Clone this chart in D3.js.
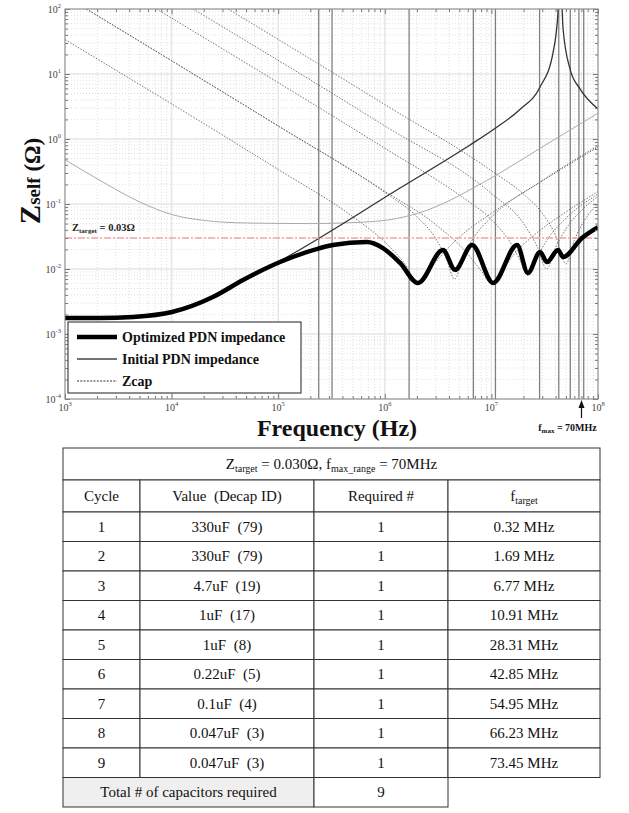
<!DOCTYPE html>
<html>
<head>
<meta charset="utf-8">
<script src="https://cdn.jsdelivr.net/npm/d3@7"></script>
<style>
body { margin: 0; background: #fff; }
text { font-family: "Liberation Serif", "Times New Roman", serif; }
</style>
</head>
<body>
<script>
// values: [frequency Hz, impedance Ohm]
var optimized = [[1e3,1.76e-3],[2.13e3,1.76e-3],[4.35e3,1.83e-3],[1.01e4,2.18e-3],[2.44e4,3.71e-3],[4.68e4,6.78e-3],
	[1.04e5,0.0128],[2.47e5,0.021],[3.26e5,0.0234],[6.8e5,0.026],[9.6e5,0.021],[1.39e6,0.0124],[2.05e6,6.1e-3],
	[3.51e6,0.0196],[4.56e6,9.7e-3],[6.58e6,0.0234],[1.04e7,6.1e-3],[1.74e7,0.0234],[2.2e7,8.7e-3],[2.86e7,0.0183],
	[3.32e7,0.0128],[4.22e7,0.0196],[4.7e7,0.0153],[7.08e7,0.03],[1e8,0.044]];

var initial = [[1e3,1.76e-3],[4.35e3,1.83e-3],[1.01e4,2.18e-3],[2.44e4,3.7e-3],[4.68e4,6.6e-3],[1.21e5,0.0153],
	[1.39e6,0.176],[6.3e6,0.81],[1.08e7,1.45],[1.85e7,2.84],[2.86e7,6.3],[3.78e7,21],[4.22e7,92],[4.35e7,1000],
	[4.7e7,50],[5.46e7,12],[6.78e7,5.9],[1e8,2.9]];

var z330 = [[1e3,0.48],[2e3,0.245],[5e3,0.108],[1e4,0.069],[2e4,0.056],[5e4,0.051],[2e5,0.05],[8e5,0.054],
	[1.5e6,0.063],[2.1e6,0.073],[3.5e6,0.101],[6.7e6,0.175],[1.2e7,0.3],[2.86e7,0.72],[1e8,2.5]];
var z4u7 = [[1e3,33.9],[1e5,0.339],[5e5,0.064],[1e6,0.026],[1.5e6,0.0128],[2.12e6,0.006],[3e6,0.0128],
	[5e6,0.031],[1e7,0.072],[3e7,0.226],[1e8,0.754]];
var z1u17 = [[1.59e3,100],[1e5,1.59],[1e6,0.151],[2e6,0.0639],[3e6,0.0295],[3.8e6,0.014],[4.5e6,0.007],
	[5.5e6,0.016],[7e6,0.0323],[1e7,0.0626],[3e7,0.23],[1e8,0.785]];
var z1u8 = [[1.59e3,100],[1e5,1.59],[1e6,0.157],[3e6,0.0483],[6e6,0.0171],[8e6,0.0094],[1e7,0.006],
	[1.25e7,0.0091],[1.6e7,0.0163],[2.5e7,0.0329],[5e7,0.0753],[1e8,0.1555]];
var z0u22 = [[7.23e3,100],[1e6,0.72],[5e6,0.137],[1e7,0.0574],[1.5e7,0.0258],[1.85e7,0.0139],[2.2e7,0.008],
	[2.6e7,0.0137],[3.3e7,0.0274],[5e7,0.0603],[1e8,0.142]];
var z0u1 = [[1.59e4,100],[1e6,1.59],[1e7,0.145],[2e7,0.0503],[2.7e7,0.0218],[3.3e7,0.01],[4e7,0.0213],
	[5e7,0.0414],[7e7,0.0798],[1e8,0.1305]];
var z0u047 = [[3.39e4,100],[1e6,3.39],[1e7,0.325],[2e7,0.142],[3e7,0.072],[4e7,0.0327],[5e7,0.012],
	[6e7,0.0277],[8e7,0.0663],[1e8,0.1018]];

var zTarget = 0.03;
var fMax = 70e6;
var extraMarks = [0.24e6];

var xTicks = [1e3,1e4,1e5,1e6,1e7,1e8];
var xTickExp = ["3","4","5","6","7","8"];
var yTicks = [1e-4,1e-3,1e-2,1e-1,1e0,1e1,1e2];
var yTickExp = ["-4","-3","-2","-1","0","1","2"];

// table
var cycles = [1,2,3,4,5,6,7,8,9];
var decaps = ["330uF  (79)","330uF  (79)","4.7uF  (19)","1uF  (17)","1uF  (8)","0.22uF  (5)","0.1uF  (4)","0.047uF  (3)","0.047uF  (3)"];
var required = [1,1,1,1,1,1,1,1,1];
var fTarget = [0.32,1.69,6.77,10.91,28.31,42.85,54.95,66.23,73.45];
var totalCaps = 9;

var W = 629, H = 813;
var pL = 65, pR = 598, pT = 9, pB = 399;

var svg = d3.select("body").append("svg")
			.attr("width", W)
			.attr("height", H);

var x = d3.scaleLog().domain([1e3,1e8]).range([pL,pR]);
var y = d3.scaleLog().domain([1e-4,1e2]).range([pB,pT]);

var minorX = [], minorY = [];
var k, m;
for (k=3; k<8; k++) { for (m=2; m<10; m++) minorX.push(m * Math.pow(10,k)); }
for (k=-4; k<2; k++) { for (m=2; m<10; m++) minorY.push(m * Math.pow(10,k)); }

// grid
var grid = svg.append("g");
grid.selectAll(".mx").data(minorX).enter().append("line")
	.attr("x1", function(d){return x(d);}).attr("x2", function(d){return x(d);})
	.attr("y1", pT).attr("y2", pB)
	.attr("stroke", "#d8d8d8").attr("stroke-width", 0.8).attr("stroke-dasharray", "1,2");
grid.selectAll(".my").data(minorY).enter().append("line")
	.attr("y1", function(d){return y(d);}).attr("y2", function(d){return y(d);})
	.attr("x1", pL).attr("x2", pR)
	.attr("stroke", "#d8d8d8").attr("stroke-width", 0.8).attr("stroke-dasharray", "1,2");
grid.selectAll(".Mx").data(xTicks).enter().append("line")
	.attr("x1", function(d){return x(d);}).attr("x2", function(d){return x(d);})
	.attr("y1", pT).attr("y2", pB)
	.attr("stroke", "#e6e6e6").attr("stroke-width", 1.5);
grid.selectAll(".My").data(yTicks).enter().append("line")
	.attr("y1", function(d){return y(d);}).attr("y2", function(d){return y(d);})
	.attr("x1", pL).attr("x2", pR)
	.attr("stroke", "#e6e6e6").attr("stroke-width", 1.5);

svg.append("clipPath").attr("id", "clip")
	.append("rect").attr("x", pL).attr("y", pT).attr("width", pR-pL).attr("height", pB-pT);

var plot = svg.append("g").attr("clip-path", "url(#clip)");

// vertical marks at the target frequencies
var marks = fTarget.map(function(d){return d * 1e6;}).concat(extraMarks);
plot.selectAll(".vm").data(marks).enter().append("line")
	.attr("x1", function(d){return x(d);}).attr("x2", function(d){return x(d);})
	.attr("y1", pT).attr("y2", pB)
	.attr("stroke", "#808080").attr("stroke-width", 1.3);

var line = d3.line()
	.x(function(d){return x(d[0]);})
	.y(function(d){return y(d[1]);})
	.curve(d3.curveMonotoneX);

// Zcap curves
var capCurves = [z4u7, z1u17, z1u8, z0u22, z0u1, z0u047];
plot.selectAll(".cap").data(capCurves).enter().append("path")
	.attr("d", line)
	.attr("fill", "none")
	.attr("stroke", "#666")
	.attr("stroke-width", 0.9)
	.attr("stroke-dasharray", "1.5,1.5");

plot.append("path").attr("d", line(z330))
	.attr("fill", "none").attr("stroke", "#aaa").attr("stroke-width", 1);

plot.append("path").attr("d", line(initial))
	.attr("fill", "none").attr("stroke", "#333").attr("stroke-width", 1.3);

// target line
plot.append("line")
	.attr("x1", pL).attr("x2", pR)
	.attr("y1", y(zTarget)).attr("y2", y(zTarget))
	.attr("stroke", "#f4a4a4").attr("stroke-width", 1.5)
	.attr("stroke-dasharray", "7,2,2,2");

plot.append("path").attr("d", line(optimized))
	.attr("fill", "none").attr("stroke", "#000").attr("stroke-width", 4.5)
	.attr("stroke-linejoin", "round");

// Z target label
var zt = svg.append("text").attr("x", 72).attr("y", y(zTarget) - 7)
	.attr("font-size", 10.5).attr("font-weight", "bold").attr("fill", "#222");
zt.append("tspan").text("Z");
zt.append("tspan").attr("font-size", 7).attr("dy", 2).text("target");
zt.append("tspan").attr("dy", -2).text(" = 0.03Ω");

// axes: ticks on all four sides, pointing in
function tickStyle(g) {
	g.selectAll("line").attr("stroke", "#777");
	g.select(".domain").remove();
}
svg.append("g").attr("transform", "translate(0," + pB + ")")
	.call(d3.axisBottom(x).tickValues(xTicks).tickSize(-5).tickFormat("")).call(tickStyle);
svg.append("g").attr("transform", "translate(0," + pB + ")")
	.call(d3.axisBottom(x).tickValues(minorX).tickSize(-3).tickFormat("")).call(tickStyle);
svg.append("g").attr("transform", "translate(0," + pT + ")")
	.call(d3.axisTop(x).tickValues(xTicks).tickSize(-5).tickFormat("")).call(tickStyle);
svg.append("g").attr("transform", "translate(0," + pT + ")")
	.call(d3.axisTop(x).tickValues(minorX).tickSize(-3).tickFormat("")).call(tickStyle);
svg.append("g").attr("transform", "translate(" + pL + ",0)")
	.call(d3.axisLeft(y).tickValues(yTicks).tickSize(-5).tickFormat("")).call(tickStyle);
svg.append("g").attr("transform", "translate(" + pL + ",0)")
	.call(d3.axisLeft(y).tickValues(minorY).tickSize(-3).tickFormat("")).call(tickStyle);
svg.append("g").attr("transform", "translate(" + pR + ",0)")
	.call(d3.axisRight(y).tickValues(yTicks).tickSize(-5).tickFormat("")).call(tickStyle);
svg.append("g").attr("transform", "translate(" + pR + ",0)")
	.call(d3.axisRight(y).tickValues(minorY).tickSize(-3).tickFormat("")).call(tickStyle);

svg.append("rect")
	.attr("x", pL).attr("y", pT).attr("width", pR-pL).attr("height", pB-pT)
	.attr("fill", "none").attr("stroke", "#8a8a8a").attr("stroke-width", 1);

// tick labels 10^n
var xl = svg.selectAll(".xl").data(xTicks).enter().append("text")
	.attr("x", function(d){return x(d);}).attr("y", 411)
	.attr("text-anchor", "middle").attr("font-size", 10).attr("fill", "#444");
xl.append("tspan").text("10");
xl.append("tspan").attr("font-size", 6.5).attr("dy", -5).text(function(d,i){return xTickExp[i];});

var yl = svg.selectAll(".yl").data(yTicks).enter().append("text")
	.attr("x", 61).attr("y", function(d){return y(d) + 4;})
	.attr("text-anchor", "end").attr("font-size", 10).attr("fill", "#444");
yl.append("tspan").text("10");
yl.append("tspan").attr("font-size", 6.5).attr("dy", -5).text(function(d,i){return yTickExp[i];});

// axis titles
svg.append("text").attr("x", 337).attr("y", 436)
	.attr("text-anchor", "middle").attr("font-size", 24).attr("font-weight", "bold").attr("fill", "#111")
	.text("Frequency (Hz)");

var yt = svg.append("text").attr("transform", "translate(40,181) rotate(-90)")
	.attr("text-anchor", "middle").attr("font-weight", "bold").attr("fill", "#111");
yt.append("tspan").attr("font-size", 29).text("Z");
yt.append("tspan").attr("font-size", 19).text("self");
yt.append("tspan").attr("font-size", 23).text(" (Ω)");

// f max arrow
var fx = x(fMax);
svg.append("line").attr("x1", fx).attr("x2", fx).attr("y1", 418).attr("y2", 404)
	.attr("stroke", "#111").attr("stroke-width", 1.2);
svg.append("path")
	.attr("d", "M" + (fx-3) + ",408 L" + fx + ",400 L" + (fx+3) + ",408 Z")
	.attr("fill", "#111");
var fl = svg.append("text").attr("x", fx - 14).attr("y", 431)
	.attr("text-anchor", "middle").attr("font-size", 10).attr("font-weight", "bold").attr("fill", "#111");
fl.append("tspan").text("f");
fl.append("tspan").attr("font-size", 7).attr("dy", 2).text("max");
fl.append("tspan").attr("dy", -2).text(" = 70MHz");

// legend
var lg = svg.append("g");
lg.append("rect").attr("x", 68).attr("y", 322).attr("width", 233).attr("height", 71)
	.attr("fill", "#fff").attr("stroke", "#444").attr("stroke-width", 1.2);
var legendItems = [
	{label: "Optimized PDN impedance", w: 4.5, dash: null, color: "#000"},
	{label: "Initial PDN impedance", w: 1.3, dash: null, color: "#444"},
	{label: "Zcap", w: 1, dash: "2,1.3", color: "#333"}
];
legendItems.forEach(function(d, i) {
	var ly = 337 + i * 22;
	lg.append("line").attr("x1", 77).attr("x2", 117).attr("y1", ly).attr("y2", ly)
		.attr("stroke", d.color).attr("stroke-width", d.w).attr("stroke-dasharray", d.dash);
	lg.append("text").attr("x", 122).attr("y", ly + 5)
		.attr("font-size", 14).attr("font-weight", "bold").attr("fill", "#111").text(d.label);
});

// table
var colX = [63, 140, 314, 448, 600];
var tTop = 448, hdrH = 32, colH = 32, rowH = 29.5;
var rowsTop = tTop + hdrH + colH;
var tg = svg.append("g").attr("font-size", 15).attr("fill", "#111");

function cell(x0, x1, y0, h, fill) {
	tg.append("rect").attr("x", x0).attr("y", y0).attr("width", x1-x0).attr("height", h)
		.attr("fill", fill || "#fff").attr("stroke", "#333").attr("stroke-width", 1);
}
function ctext(cx, cy, s) {
	return tg.append("text").attr("x", cx).attr("y", cy + 5).attr("text-anchor", "middle")
		.attr("xml:space", "preserve").style("white-space", "pre").text(s);
}

cell(colX[0], colX[4], tTop, hdrH);
var ht = tg.append("text").attr("x", (colX[0]+colX[4])/2).attr("y", tTop + hdrH/2 + 5).attr("text-anchor", "middle");
ht.append("tspan").text("Z");
ht.append("tspan").attr("font-size", 10).attr("dy", 3).text("target");
ht.append("tspan").attr("dy", -3).text(" = 0.030Ω, f");
ht.append("tspan").attr("font-size", 10).attr("dy", 3).text("max_range");
ht.append("tspan").attr("dy", -3).text(" = 70MHz");

var heads = ["Cycle", "Value  (Decap ID)", "Required #", ""];
var c;
for (c=0; c<4; c++) {
	cell(colX[c], colX[c+1], tTop + hdrH, colH);
	if (heads[c]) ctext((colX[c]+colX[c+1])/2, tTop + hdrH + colH/2, heads[c]);
}
var fh = tg.append("text").attr("x", (colX[3]+colX[4])/2).attr("y", tTop + hdrH + colH/2 + 5).attr("text-anchor", "middle");
fh.append("tspan").text("f");
fh.append("tspan").attr("font-size", 10).attr("dy", 3).text("target");

cycles.forEach(function(d, i) {
	var ry = rowsTop + i * rowH;
	var vals = [String(d), decaps[i], String(required[i]), fTarget[i].toFixed(2) + " MHz"];
	for (c=0; c<4; c++) {
		cell(colX[c], colX[c+1], ry, rowH);
		ctext((colX[c]+colX[c+1])/2, ry + rowH/2, vals[c]);
	}
});

var totY = rowsTop + cycles.length * rowH;
cell(colX[0], colX[2], totY, rowH, "#efefef");
ctext((colX[0]+colX[2])/2, totY + rowH/2, "Total # of capacitors required");
cell(colX[2], colX[3], totY, rowH);
ctext((colX[2]+colX[3])/2, totY + rowH/2, String(totalCaps));
</script>
</body>
</html>
